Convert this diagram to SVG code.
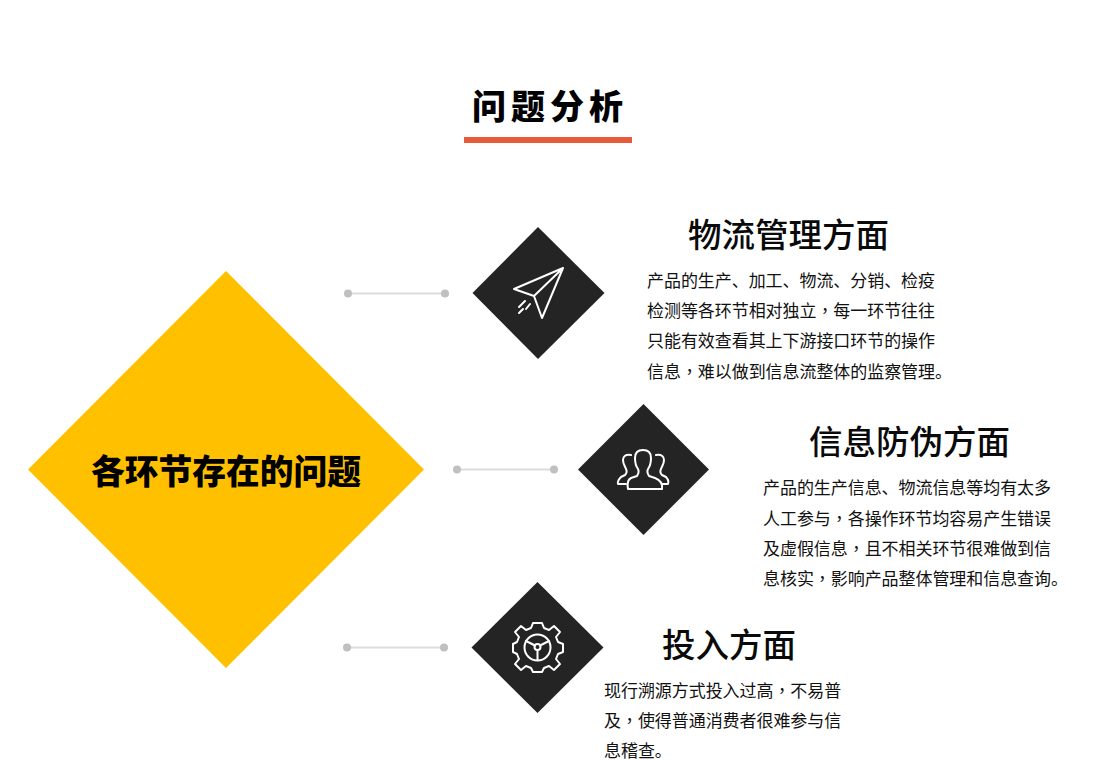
<svg xmlns="http://www.w3.org/2000/svg" width="1100" height="760" viewBox="0 0 1100 760">
<style>
text{font-family:"Noto Sans CJK SC","Noto Sans",sans-serif;fill:#0a0a0a}
.title{font-size:34px;font-weight:900;letter-spacing:5px;fill:#000}
.h{font-size:33.5px;font-weight:500}
.b{font-size:17px;fill:#111;letter-spacing:-.06px}
.c{font-family:"Noto Sans CJK TC","Noto Sans CJK SC",sans-serif}
.main{font-size:33.75px;font-weight:900;fill:#000}
.d{fill:#242424}
.i{fill:none;stroke:#fff;stroke-width:2;stroke-linejoin:round;stroke-linecap:round}
.l{stroke:#dcdcdc;stroke-width:2}
.p{fill:#c0c0c0}
</style>
<rect width="1100" height="760" fill="#fff"/>
<g id="title"><text class="title" x="472" y="119">问题分析</text><rect x="464" y="137" width="168" height="6" fill="#e75a3a"/></g>
<g id="connectors">
<line class="l" x1="348" y1="293.500" x2="445" y2="293.500"/><circle class="p" cx="348" cy="293.500" r="4"/><circle class="p" cx="445" cy="293.500" r="4"/>
<line class="l" x1="457" y1="469.500" x2="554" y2="469.500"/><circle class="p" cx="457" cy="469.500" r="4"/><circle class="p" cx="554" cy="469.500" r="4"/>
<line class="l" x1="347" y1="647.500" x2="444" y2="647.500"/><circle class="p" cx="347" cy="647.500" r="4"/><circle class="p" cx="444" cy="647.500" r="4"/>
</g>
<g id="main"><polygon points="226,271 424,469.500 226,668 28,469.500" fill="#ffc000"/><text class="main" x="91" y="484">各环节存在的问题</text></g>
<g id="node1"><polygon class="d" points="538,227 604.500,293 538,359 472.500,293"/>
<path class="i" d="M563 268L514 289L534 296L542 318ZM563 268L534 296M525 301L519 307M530 304L526 309M523 309L519 313"/>
<text class="h" x="688" y="247">物流管理方面</text>
<text class="b" x="647" y="286.500">产品的生产、加工、物流、分销、检疫</text>
<text class="b" x="647" y="316.500">检测等各环节相对独立<tspan class="c" xml:lang="zh-Hant-TW">，</tspan>每一环节往往</text>
<text class="b" x="647" y="346.500">只能有效查看其上下游接口环节的操作</text>
<text class="b" x="647" y="377.500">信息<tspan class="c" xml:lang="zh-Hant-TW">，</tspan>难以做到信息流整体的监察管理。</text></g>
<g id="node2"><polygon class="d" points="643.500,404 709,469.500 643.500,535 578,469.500"/>
<path class="i" d="M628 489H662C663 483 660 480 655 478L649 476C647 473 647 471 648 469C651 465 651 462 651 458C651 453 648 450 643 450C638 450 635 453 635 458C635 462 635 465 638 469C639 471 639 473 637 476L631 478C627 480 627 484 628 489Z"/>
<path class="i" d="M631 455C625 454 623 457 623 460C623 464 625 466 626 469C627 471 627 473 625 475L621 477C619 479 617 481 618 484L626 484M656 455C662 454 664 457 664 460C664 464 662 466 661 469C660 471 660 473 662 475L666 477C668 479 669 481 668 484L662 484"/>
<text class="h" x="809" y="454">信息防伪方面</text>
<text class="b" x="763" y="493.500">产品的生产信息、物流信息等均有太多</text>
<text class="b" x="763" y="524.500">人工参与<tspan class="c" xml:lang="zh-Hant-TW">，</tspan>各操作环节均容易产生错误</text>
<text class="b" x="763" y="554.500">及虚假信息<tspan class="c" xml:lang="zh-Hant-TW">，</tspan>且不相关环节很难做到信</text>
<text class="b" x="763" y="584.500">息核实<tspan class="c" xml:lang="zh-Hant-TW">，</tspan>影响产品整体管理和信息查询。</text></g>
<g id="node3"><polygon class="d" points="537.500,582 603.500,647.500 537.500,713 471.500,647.500"/>
<path class="i" d="M533 623L542 623L544 628L549 630L554 626L560 632L556 637L558 642L563 644L563 652L558 654L556 659L560 664L554 670L549 666L544 668L542 672L533 672L531 668L526 666L521 670L515 664L519 659L517 654L513 652L513 644L517 642L519 637L515 632L521 626L526 630L531 628Z"/>
<circle class="i" cx="537.500" cy="647.500" r="13"/><circle class="i" cx="537.500" cy="647" r="3"/>
<path class="i" d="M537.500 650V660M535 645.500L526 641M540 645.500L549 641"/>
<text class="h" x="662" y="657">投入方面</text>
<text class="b" x="604" y="696.500">现行溯源方式投入过高<tspan class="c" xml:lang="zh-Hant-TW">，</tspan>不易普</text>
<text class="b" x="604" y="726.500">及<tspan class="c" xml:lang="zh-Hant-TW">，</tspan>使得普通消费者很难参与信</text>
<text class="b" x="604" y="756.500">息稽查。</text></g>
</svg>
